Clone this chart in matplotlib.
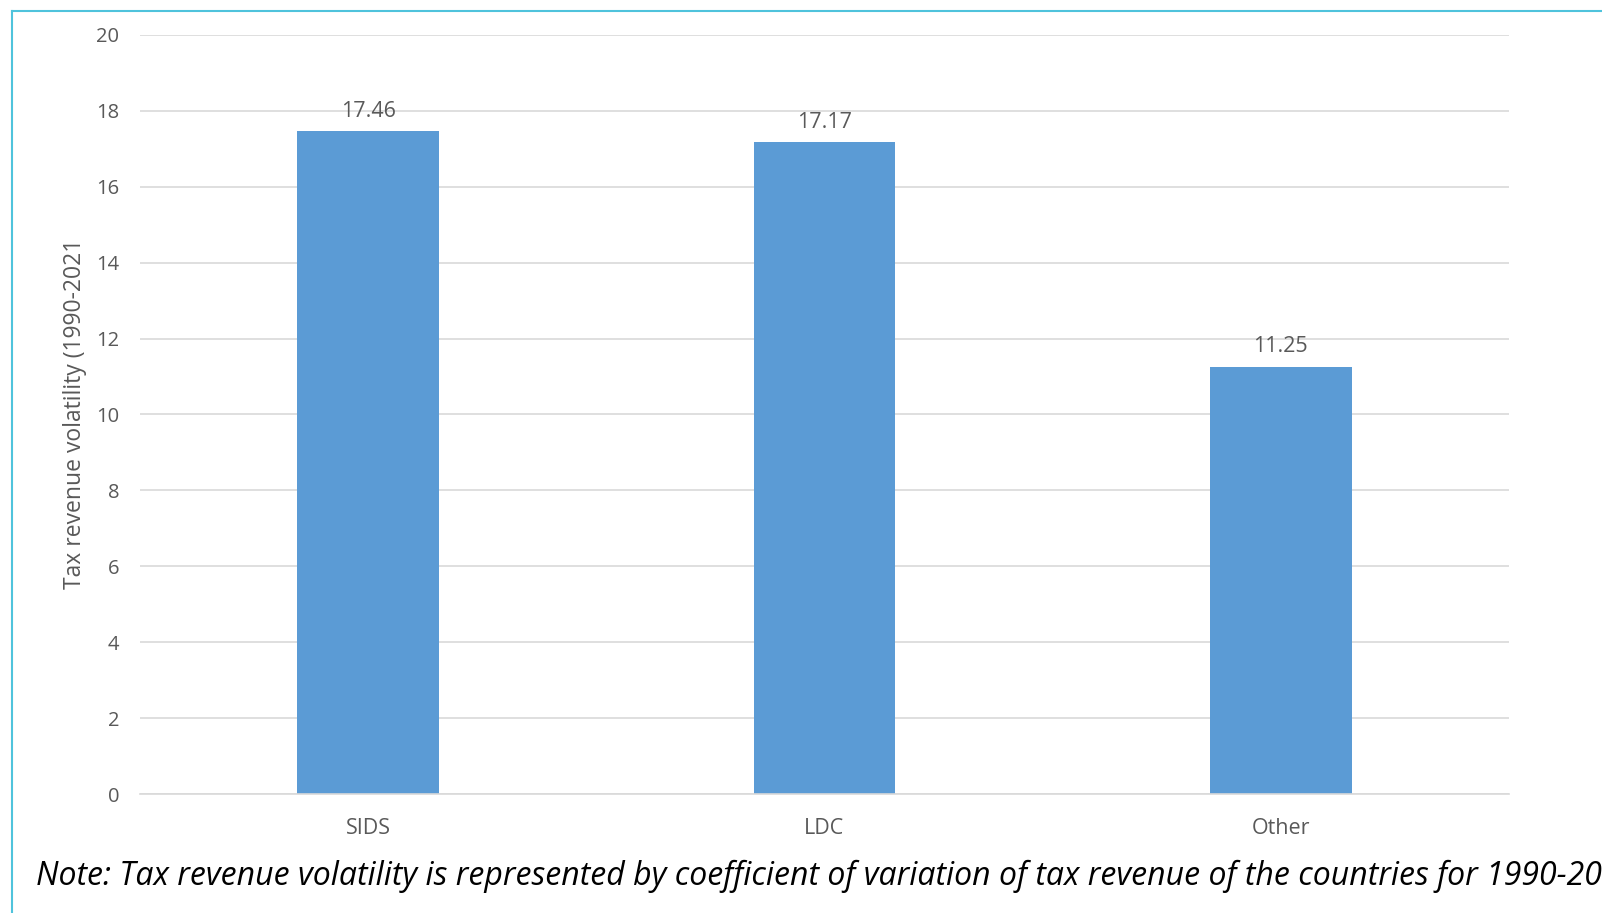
import matplotlib
matplotlib.use("Agg")
import matplotlib.pyplot as plt
from matplotlib.lines import Line2D

categories = ["SIDS", "LDC", "Other"]
values = [17.46, 17.17, 11.25]
yticks = [0, 2, 4, 6, 8, 10, 12, 14, 16, 18, 20]

BAR = "#5B9BD5"
GRID = "#D9D9D9"
TXT = "#595959"
BORDER = "#4FC3DC"

W, H = 1602, 913
fig = plt.figure(figsize=(W / 100, H / 100), dpi=100)
plt.rcParams["font.family"] = ["Open Sans", "DejaVu Sans"]

# axes box in pixels: left 140, right 1509, top 35 (y=20), bottom 794 (y=0)
ax = fig.add_axes([140 / W, 1 - 794 / H, (1509 - 140) / W, (794 - 35) / H])
x = range(len(categories))
ax.bar(x, values, width=0.31, color=BAR, zorder=2)
ax.set_xlim(-0.5, len(categories) - 0.5)
ax.set_ylim(0, 20)
ax.set_yticks(yticks)
ax.set_xticks(list(x))
ax.set_xticklabels(categories)
ax.tick_params(axis="both", length=0, colors=TXT)
ax.tick_params(axis="y", pad=15, labelsize=14.5)
ax.tick_params(axis="x", pad=17, labelsize=15.5)
ax.grid(axis="y", color=GRID, linewidth=1.2, zorder=0)
for s in ["top", "right", "left"]:
    ax.spines[s].set_visible(False)
ax.spines["bottom"].set_color(GRID)
ax.spines["bottom"].set_linewidth(1.2)

for xi, v in zip(x, values):
    ax.annotate(f"{v:.2f}", (xi, v), xytext=(0, 7), textcoords="offset points",
                ha="center", va="bottom", fontsize=15.5, color=TXT)

fig.text(75 / W, 1 - 414 / H, "Tax revenue volatility (1990-2021", rotation=90,
         ha="center", va="center", fontsize=16.5, color=TXT)

fig.text(36 / W, 1 - 876 / H,
         "Note: Tax revenue volatility is represented by coefficient of variation of tax revenue of the countries for 1990-2021",
         ha="left", va="center", fontsize=23, style="italic", color="black")

# frame lines (left and top)
fig.add_artist(Line2D([12 / W, 12 / W], [0, 1 - 11 / H], transform=fig.transFigure,
                      color=BORDER, linewidth=1.5))
fig.add_artist(Line2D([12 / W, 1], [1 - 11 / H, 1 - 11 / H], transform=fig.transFigure,
                      color=BORDER, linewidth=1.5))

fig.savefig("out.png", dpi=100)
